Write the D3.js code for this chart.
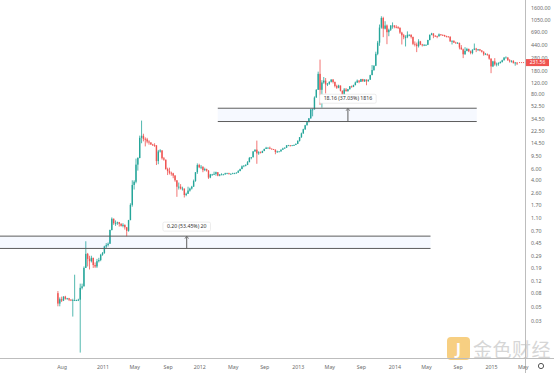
<!DOCTYPE html>
<html>
<head>
<meta charset="utf-8">
<script src="https://cdn.jsdelivr.net/npm/d3@7"></script>
<style>
  body { margin: 0; background: #fff; }
  svg { display: block; font-family: "Noto Sans", "DejaVu Sans", sans-serif; }
</style>
</head>
<body>
<div id="chart"></div>
<script>
// Weekly BTCUSD candles, first bar is the week of Mon 19 Jul 2010
const firstWeek = "2010-07-19";
const firstOpen = 0.079;

const closes = [
  0.055, 0.064, 0.061, 0.070, 0.065, 0.066, 0.063, 0.062, 0.062, 0.062, 0.062, 0.063,
  0.095, 0.100, 0.19, 0.31, 0.26, 0.24, 0.27, 0.21, 0.20, 0.24, 0.25, 0.30,
  0.32, 0.40, 0.42, 0.44, 0.71, 1.05, 0.90, 0.90, 0.93, 0.88, 0.82, 0.85,
  0.78, 0.69, 1.00, 1.70, 3.40, 3.80, 6.90, 8.70, 17.5, 18.8, 16.9, 16.6,
  15.4, 14.9, 13.9, 13.6, 13.5, 7.8, 10.9, 11.3, 8.6, 8.2, 5.9, 5.5,
  5.2, 5.1, 4.7, 4.0, 3.2, 3.2, 3.0, 3.0, 2.4, 2.5, 2.8, 3.0,
  3.2, 3.9, 5.3, 6.8, 6.3, 6.4, 5.7, 5.9, 5.6, 4.4, 4.9, 4.9,
  5.0, 5.3, 4.7, 4.9, 4.9, 4.9, 5.1, 5.1, 5.0, 5.0, 5.1, 5.1,
  5.2, 5.5, 5.9, 6.5, 6.7, 6.8, 7.5, 8.7, 8.9, 10.9, 11.6, 10.2,
  10.6, 10.4, 11.1, 11.9, 12.4, 12.4, 12.0, 11.8, 11.6, 10.7, 10.9, 10.9,
  11.6, 12.1, 12.4, 13.5, 13.5, 13.4, 13.5, 13.7, 14.2, 15.8, 17.9, 20.4,
  23.6, 27.1, 30.2, 34.5, 46.9, 47.0, 71, 93, 162, 93, 120, 128,
  112, 115, 123, 133, 122, 106, 100, 108, 90, 76, 94, 89,
  95, 105, 103, 110, 120, 128, 123, 135, 125, 133, 125, 132,
  155, 185, 215, 325, 480, 810, 1130, 780, 870, 690, 750, 870,
  870, 830, 820, 800, 680, 620, 580, 580, 630, 630, 585, 460,
  450, 425, 500, 450, 440, 445, 445, 525, 630, 660, 610, 605,
  600, 640, 630, 625, 605, 595, 590, 500, 510, 480, 475, 475,
  405, 380, 320, 360, 385, 355, 335, 375, 390, 375, 380, 365,
  350, 320, 320, 315, 275, 210, 250, 225, 230, 235, 245, 260,
  285, 285, 260, 250, 255, 235, 240, 231.56
];

const highs = [
  0.085, 0.068, 0.070, 0.071, 0.072, 0.067, 0.067, 0.064, 0.065, 0.150, 0.063, 0.065,
  0.110, 0.110, 0.20, 0.48, 0.32, 0.29, 0.29, 0.27, 0.23, 0.26, 0.27, 0.31,
  0.33, 0.41, 0.45, 0.46, 0.72, 1.10, 1.06, 0.99, 0.95, 0.94, 0.90, 0.90,
  0.86, 0.79, 1.01, 1.80, 4.00, 4.00, 8.50, 8.90, 18.9, 31.9, 20.2, 17.8,
  17.5, 16.1, 15.0, 14.2, 14.5, 13.5, 11.5, 11.8, 11.4, 9.0, 8.2, 6.2,
  6.2, 5.4, 5.2, 4.8, 4.0, 3.7, 3.5, 3.2, 3.0, 2.6, 3.2, 3.1,
  3.3, 4.1, 5.3, 7.2, 7.1, 6.8, 6.5, 6.2, 6.0, 5.7, 5.0, 5.0,
  5.4, 5.4, 5.3, 4.95, 5.1, 5.0, 5.2, 5.2, 5.2, 5.1, 5.2, 5.2,
  5.3, 5.7, 6.0, 6.7, 6.7, 7.0, 7.8, 9.0, 9.0, 11.1, 11.7, 15.9,
  11.0, 10.9, 11.2, 12.0, 12.8, 12.6, 12.9, 12.1, 11.9, 11.7, 11.2, 11.0,
  11.7, 12.4, 12.6, 13.6, 13.7, 13.6, 13.6, 13.8, 14.4, 16.0, 18.0, 21.0,
  24.0, 27.5, 31.0, 34.9, 48.0, 48.5, 74, 95, 175, 266, 130, 145,
  140, 118, 125, 134, 135, 124, 111, 111, 108, 91, 99, 99,
  96, 106, 108, 111, 124, 133, 130, 136, 136, 134, 133, 133,
  157, 220, 218, 350, 510, 900, 1200, 1180, 1010, 900, 780, 880,
  970, 880, 880, 850, 820, 700, 650, 620, 710, 640, 640, 590,
  500, 480, 540, 510, 460, 455, 450, 530, 635, 675, 665, 620,
  610, 660, 645, 635, 630, 610, 600, 595, 520, 520, 495, 490,
  480, 440, 390, 410, 400, 390, 365, 380, 465, 400, 385, 385,
  370, 355, 335, 330, 318, 278, 255, 280, 240, 242, 250, 265,
  290, 298, 290, 270, 260, 260, 245, 242
];

const lows = [
  0.050, 0.050, 0.058, 0.060, 0.063, 0.063, 0.060, 0.060, 0.035, 0.060, 0.060, 0.060,
  0.010, 0.090, 0.10, 0.19, 0.20, 0.18, 0.23, 0.19, 0.19, 0.19, 0.23, 0.24,
  0.29, 0.31, 0.38, 0.40, 0.44, 0.70, 0.85, 0.82, 0.85, 0.80, 0.80, 0.78,
  0.72, 0.57, 0.67, 1.00, 1.60, 2.90, 3.60, 5.60, 8.6, 14.5, 15.5, 13.0,
  14.5, 13.8, 13.7, 13.2, 12.8, 6.8, 7.0, 10.5, 8.2, 7.9, 5.8, 4.8,
  4.9, 4.7, 4.3, 3.8, 2.25, 2.9, 2.9, 2.8, 2.2, 2.3, 2.5, 2.7,
  2.9, 3.2, 3.8, 5.0, 6.1, 5.9, 5.3, 5.5, 5.4, 4.2, 4.3, 4.7,
  4.8, 4.7, 4.6, 4.6, 4.8, 4.8, 4.9, 5.0, 4.9, 4.9, 5.0, 5.0,
  5.1, 5.2, 5.5, 5.9, 6.3, 6.5, 6.8, 7.5, 8.3, 8.9, 10.8, 7.1,
  9.7, 10.2, 10.3, 11.0, 11.9, 12.1, 11.8, 11.7, 11.5, 9.9, 10.4, 10.7,
  10.9, 11.5, 12.0, 12.4, 13.2, 13.0, 13.2, 13.2, 13.6, 14.1, 15.4, 17.5,
  20.2, 23.0, 27.0, 30.0, 34.0, 37.0, 47, 71, 93, 55, 50, 115,
  82, 106, 111, 120, 116, 101, 96, 98, 88, 66, 73, 87,
  87, 94, 100, 102, 108, 118, 117, 122, 123, 122, 109, 124,
  132, 155, 180, 212, 310, 430, 780, 580, 760, 455, 600, 720,
  780, 790, 790, 770, 650, 450, 540, 420, 560, 600, 555, 440,
  420, 345, 405, 440, 420, 425, 430, 440, 520, 620, 560, 585,
  560, 590, 610, 605, 585, 575, 575, 495, 450, 475, 465, 465,
  380, 375, 280, 315, 355, 345, 320, 320, 370, 345, 360, 355,
  340, 305, 315, 305, 265, 166, 205, 215, 210, 215, 233, 240,
  258, 280, 255, 240, 240, 233, 215, 220
];

const priceTicks = [0.03, 0.05, 0.08, 0.12, 0.19, 0.29, 0.45, 0.70, 1.10, 1.70, 2.60, 4.00,
  6.00, 9.50, 14.50, 22.50, 34.50, 52.50, 80.00, 120.00, 180.00, 280.00, 440.00, 690.00, 1050.00, 1600.00];

const timeTicks = ["2010-08-02", "2011-01-03", "2011-05-02", "2011-09-05", "2012-01-02", "2012-05-07",
  "2012-09-03", "2013-01-07", "2013-05-06", "2013-09-02", "2014-01-06", "2014-05-05",
  "2014-09-01", "2015-01-05", "2015-05-04"];
const timeLabels = ["Aug", "2011", "May", "Sep", "2012", "May", "Sep", "2013", "May", "Sep",
  "2014", "May", "Sep", "2015", "May"];

// Price range drawings: [start date, end date], low/high price, arrow date, label
const rangeStart = ["2009-12-01", "2012-03-12"];
const rangeEnd = ["2014-05-22", "2014-11-12"];
const rangeLow = [0.374, 30.88];
const rangeHigh = [0.574, 49.04];
const rangeArrow = ["2011-11-16", "2013-07-15"];
const rangeLabels = ["0.20 (53.45%) 20", "18.16 (37.03%) 1816"];

const lastPrice = 231.56;

class CandleChart {
  constructor(_config) {
    this.config = {
      parentElement: _config.parentElement,
      width: 554,
      height: 373,
      plotRight: 525,
      plotBottom: 358
    };
    this.upColor = "#26a69a";
    this.downColor = "#ef5350";
    this.initVis();
  }

  initVis() {
    let vis = this;
    const parseDay = d3.timeParse("%Y-%m-%d");
    vis.parseDay = parseDay;

    let start = parseDay(firstWeek);
    vis.data = closes.map((c, i) => ({
      date: d3.timeDay.offset(start, i * 7),
      open: i ? closes[i - 1] : firstOpen,
      close: c,
      high: highs[i],
      low: lows[i]
    }));

    vis.svg = d3.select(vis.config.parentElement).append("svg")
      .attr("width", vis.config.width)
      .attr("height", vis.config.height);

    vis.x = d3.scaleTime()
      .domain([new Date(2011, 0, 1), new Date(2015, 0, 1)])
      .range([102, 490]);

    vis.y = d3.scaleLog()
      .domain([0.03, 1600])
      .range([321, 8]);

    vis.svg.append("clipPath").attr("id", "plot-clip")
      .append("rect")
      .attr("width", vis.config.plotRight)
      .attr("height", vis.config.plotBottom);

    vis.plot = vis.svg.append("g").attr("clip-path", "url(#plot-clip)");
    vis.renderVis();
  }

  renderVis() {
    let vis = this;
    const x = vis.x, y = vis.y;
    const color = d => d.close >= d.open ? vis.upColor : vis.downColor;

    // watermark sits under everything
    let wm = vis.svg.append("g").attr("opacity", 0.55);
    wm.append("rect")
      .attr("x", 447).attr("y", 337).attr("width", 23).attr("height", 23).attr("rx", 4)
      .attr("fill", "#f2a81d");
    wm.append("text")
      .attr("x", 458.5).attr("y", 355)
      .attr("text-anchor", "middle")
      .attr("font-size", 16).attr("font-weight", "bold")
      .attr("fill", "#fff")
      .text("J");
    wm.append("text")
      .attr("x", 473).attr("y", 357)
      .attr("font-family", "'Noto Sans CJK SC', sans-serif")
      .attr("font-size", 19)
      .attr("fill", "#b5b5b5")
      .attr("letter-spacing", 0.5)
      .text("金色财经");

    // candles
    let candles = vis.plot.append("g").selectAll("g").data(vis.data).join("g")
      .attr("fill", color)
      .attr("stroke", color);

    candles.append("line")
      .attr("x1", d => x(d.date)).attr("x2", d => x(d.date))
      .attr("y1", d => y(d.high)).attr("y2", d => y(d.low))
      .attr("stroke-width", 0.8);

    candles.append("rect")
      .attr("stroke", "none")
      .attr("x", d => x(d.date) - 0.7)
      .attr("width", 1.4)
      .attr("y", d => y(Math.max(d.open, d.close)))
      .attr("height", d => Math.max(0.8, Math.abs(y(d.open) - y(d.close))));

    // price range boxes
    rangeLabels.forEach((label, i) => {
      let x0 = x(vis.parseDay(rangeStart[i])), x1 = x(vis.parseDay(rangeEnd[i]));
      let yTop = y(rangeHigh[i]), yBot = y(rangeLow[i]);
      let xa = x(vis.parseDay(rangeArrow[i]));
      let g = vis.plot.append("g");

      g.append("rect")
        .attr("x", x0).attr("y", yTop)
        .attr("width", x1 - x0).attr("height", yBot - yTop)
        .attr("fill", "rgba(33,100,243,0.04)");
      [yTop, yBot].forEach(yy => g.append("line")
        .attr("x1", x0).attr("x2", x1).attr("y1", yy).attr("y2", yy)
        .attr("stroke", "#5d5d5d").attr("stroke-width", 1));
      g.append("line")
        .attr("x1", xa).attr("x2", xa).attr("y1", yBot).attr("y2", yTop + 1)
        .attr("stroke", "#5d5d5d").attr("stroke-width", 1);
      g.append("path")
        .attr("d", `M${xa - 1.8},${yTop + 2.5}L${xa},${yTop}L${xa + 1.8},${yTop + 2.5}`)
        .attr("fill", "none").attr("stroke", "#5d5d5d").attr("stroke-width", 0.8);

      let lg = g.append("g");
      let lr = lg.append("rect");
      let lt = lg.append("text")
        .attr("x", xa).attr("y", yTop - 8)
        .attr("text-anchor", "middle")
        .attr("font-size", 5.2)
        .attr("fill", "#333")
        .text(label);
      let w = lt.node().getComputedTextLength() + 8;
      lr.attr("x", xa - w / 2).attr("y", yTop - 14)
        .attr("width", w).attr("height", 9).attr("rx", 1.5)
        .attr("fill", "#fff").attr("stroke", "#e0e0e0").attr("stroke-width", 0.6);
    });

    // axes
    vis.svg.append("line")
      .attr("x1", 0).attr("x2", vis.config.width)
      .attr("y1", vis.config.plotBottom + 0.5).attr("y2", vis.config.plotBottom + 0.5)
      .attr("stroke", "#bdbdbd");
    vis.svg.append("line")
      .attr("x1", vis.config.plotRight + 0.5).attr("x2", vis.config.plotRight + 0.5)
      .attr("y1", 0).attr("y2", vis.config.height)
      .attr("stroke", "#bdbdbd");

    let yAxis = vis.svg.append("g")
      .attr("transform", `translate(${vis.config.plotRight},0)`)
      .call(d3.axisRight(y).tickValues(priceTicks).tickFormat(d3.format(".2f")).tickSize(0).tickPadding(6));
    yAxis.select(".domain").remove();
    yAxis.selectAll("text").attr("font-size", 5.3).attr("fill", "#6b6b6b")
      .attr("font-family", "'Noto Sans', sans-serif");

    let xAxis = vis.svg.append("g")
      .attr("transform", `translate(0,${vis.config.plotBottom})`)
      .call(d3.axisBottom(x).tickValues(timeTicks.map(vis.parseDay))
        .tickFormat((d, i) => timeLabels[i]).tickSize(0).tickPadding(7));
    xAxis.select(".domain").remove();
    xAxis.selectAll("text").attr("font-size", 5.3).attr("fill", "#6b6b6b")
      .attr("font-family", "'Noto Sans', sans-serif");

    // last price marker
    let last = vis.data[vis.data.length - 1];
    let yl = y(lastPrice) - 1;
    vis.svg.append("line")
      .attr("x1", x(last.date) + 2).attr("x2", vis.config.plotRight)
      .attr("y1", yl).attr("y2", yl)
      .attr("stroke", color(last)).attr("stroke-dasharray", "1,1");
    vis.svg.append("rect")
      .attr("x", vis.config.plotRight + 1).attr("y", yl - 3.5)
      .attr("width", 23).attr("height", 7)
      .attr("fill", color(last));
    vis.svg.append("text")
      .attr("x", vis.config.plotRight + 12.5).attr("y", yl + 1.8)
      .attr("text-anchor", "middle")
      .attr("font-size", 5).attr("fill", "#fff")
      .text(d3.format(".2f")(lastPrice));

    // settings gear
    vis.svg.append("circle")
      .attr("cx", 541).attr("cy", 366).attr("r", 2.6)
      .attr("fill", "none").attr("stroke", "#555").attr("stroke-width", 1);
  }
}

new CandleChart({ parentElement: "#chart" });
</script>
</body>
</html>
